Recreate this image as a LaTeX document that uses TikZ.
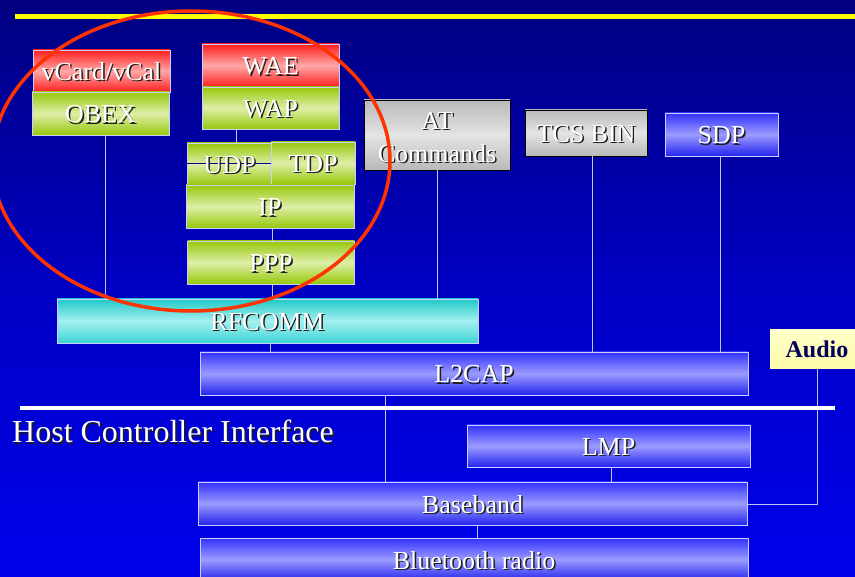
\documentclass[tikz,border=0pt]{standalone}
\usepackage{fontspec}
\setmainfont{Liberation Serif}
\usetikzlibrary{calc}

\definecolor{bgtop}{RGB}{0,0,128}
\definecolor{bgmid}{RGB}{0,0,196}
\definecolor{bgbot}{RGB}{0,0,236}
\definecolor{ylw}{RGB}{255,255,0}
\definecolor{gtop}{RGB}{150,200,10}
\definecolor{gmid}{RGB}{222,238,168}
\definecolor{rtop}{RGB}{255,30,30}
\definecolor{rmid}{RGB}{255,168,168}
\definecolor{btop}{RGB}{50,50,255}
\definecolor{bmid}{RGB}{155,155,255}
\definecolor{bbot}{RGB}{36,36,240}
\definecolor{grtop}{RGB}{185,185,185}
\definecolor{grmid}{RGB}{228,228,228}
\definecolor{ctop}{RGB}{34,200,200}
\definecolor{cmid}{RGB}{165,240,240}
\definecolor{cbot}{RGB}{60,212,212}
\definecolor{ytop}{RGB}{255,255,200}
\definecolor{ybot}{RGB}{255,250,170}
\definecolor{edge}{RGB}{205,205,255}
\definecolor{linkc}{RGB}{195,195,240}
\definecolor{shadowc}{RGB}{30,30,30}
\definecolor{ellc}{RGB}{255,50,0}
\definecolor{navy}{RGB}{0,0,90}
\definecolor{udpline}{RGB}{0,0,140}

\newcommand\shtxt[1]{\leavevmode\rlap{\hspace{1.5pt}\raisebox{-1.5pt}{\textcolor{shadowc}{#1}}}#1}

\tikzset{
  boxfont/.style={text=white, font=\fontsize{26}{32}\selectfont},
  layer/.style={draw=edge, line width=0.9pt, inner sep=0pt, boxfont,
    text height=20pt, text depth=1pt},
  gfill/.style={top color=gtop, bottom color=gtop, middle color=gmid},
  rfill/.style={top color=rtop, bottom color=rtop, middle color=rmid},
  bfill/.style={top color=btop, bottom color=bbot, middle color=bmid},
  grfill/.style={top color=grtop, bottom color=grtop, middle color=grmid, draw=black},
  cfill/.style={top color=ctop, bottom color=cbot, middle color=cmid},
  link/.style={draw=linkc, line width=1pt},
}

\begin{document}
\begin{tikzpicture}[x=1pt, y=-1pt]
\useasboundingbox (0,0) rectangle (855,577);
\shade[top color=bgtop, bottom color=bgbot, middle color=bgmid] (0,0) rectangle (855,577);
\fill[ylw] (15,14.5) rectangle (855,19.5);

% upper stacks
\node[layer, rfill, minimum width=137pt, minimum height=42pt] (vcard) at (101.5,71) {\shtxt{vCard/vCal}};
\node[layer, gfill, minimum width=137pt, minimum height=43pt] (obex) at (100.5,113.5) {\shtxt{OBEX}};
\node[layer, rfill, minimum width=137pt, minimum height=43pt] (wae) at (270.5,65.5) {\shtxt{WAE}};
\node[layer, gfill, minimum width=137pt, minimum height=42pt] (wap) at (270.5,108) {\shtxt{WAP}};
\node[layer, gfill, minimum width=85pt, minimum height=42pt] (udp) at (229.5,164) {};
\draw[udpline, line width=1pt] (udp.west) -- (udp.east);
\node[boxfont, inner sep=0pt, text height=20pt, text depth=1pt] (udptxt) at (udp.center) {\shtxt{UDP}};
\node[layer, gfill, minimum width=84pt, minimum height=42pt] (tdp) at (313,163) {\shtxt{TDP}};
\node[layer, gfill, minimum width=168pt, minimum height=43pt] (ip) at (270,206.5) {\shtxt{IP}};
\node[layer, gfill, minimum width=167pt, minimum height=43pt] (ppp) at (271,262.5) {\shtxt{PPP}};

\node[layer, grfill, minimum width=146pt, minimum height=70pt] (at) at (437,135) {};
\node[boxfont, inner sep=0pt, align=center] (attxt) at ([yshift=-3pt]at.center) {\shtxt{AT}\\[1pt]\shtxt{Commands}};
\node[layer, grfill, minimum width=122pt, minimum height=46pt] (tcs) at (586,133) {\shtxt{TCS BIN}};
\node[layer, bfill, minimum width=113pt, minimum height=43pt] (sdp) at (721.5,134.5) {\shtxt{SDP}};

\node[layer, cfill, minimum width=421pt, minimum height=44pt] (rfcomm) at (267.5,321) {\shtxt{RFCOMM}};
\node[layer, bfill, minimum width=548pt, minimum height=43pt] (l2cap) at (474,373.5) {\shtxt{L2CAP}};
\node[draw=none, top color=ytop, bottom color=ybot, minimum width=94pt, minimum height=39pt,
  inner sep=0pt, text=navy, font=\fontsize{24}{28}\selectfont\bfseries,
  text height=18pt, text depth=1pt] (audio) at (817,349.5) {Audio};

\node[layer, bfill, minimum width=283pt, minimum height=42pt] (lmp) at (608.5,446) {\shtxt{LMP}};
\node[layer, bfill, minimum width=549pt, minimum height=43pt] (baseband) at (472.5,503.5) {\shtxt{Baseband}};
\node[layer, bfill, minimum width=548pt, minimum height=43pt] (radio) at (474,559.5) {\shtxt{Bluetooth radio}};

% connectors
\draw[link] ([xshift=4.5pt]obex.south) -- ([xshift=4.5pt]obex.south |- rfcomm.north);
\draw[link] ([xshift=-34.5pt]wap.south) -- ([xshift=-34.5pt]wap.south |- udp.north);
\draw[link] ([xshift=1pt]ppp.north |- ip.south) -- ([xshift=1pt]ppp.north);
\draw[link] ([xshift=1pt]ppp.south) -- ([xshift=1pt]ppp.south |- rfcomm.north);
\draw[link] (at.south) -- (at.south |- rfcomm.north);
\draw[link] ([xshift=6pt]tcs.south) -- ([xshift=6pt]tcs.south |- l2cap.north);
\draw[link] ([xshift=-1.5pt]sdp.south) -- ([xshift=-1.5pt]sdp.south |- l2cap.north);
\draw[link] ([xshift=2.5pt]rfcomm.south) -- ([xshift=2.5pt]rfcomm.south |- l2cap.north);
\draw[link] ([xshift=-89pt]l2cap.south) -- ([xshift=-89pt]l2cap.south |- baseband.north);
\draw[link] ([xshift=2.5pt]lmp.south) -- ([xshift=2.5pt]lmp.south |- baseband.north);
\draw[link] ([xshift=4.5pt]baseband.south) -- ([xshift=4.5pt]baseband.south |- radio.north);
\draw[link] (audio.south) |- ([yshift=-1.5pt]baseband.east);

% host controller interface
\draw[white, line width=3.5pt] (20,408) -- (835,408);
\node[anchor=base west, inner sep=0pt, text=white, font=\fontsize{32}{36}\selectfont] (hci) at (12,443) {\shtxt{Host Controller Interface}};

% highlight ellipse
\draw[ellc, line width=3.5pt] (191,161) ellipse [x radius=199pt, y radius=150pt];
\end{tikzpicture}
\end{document}
